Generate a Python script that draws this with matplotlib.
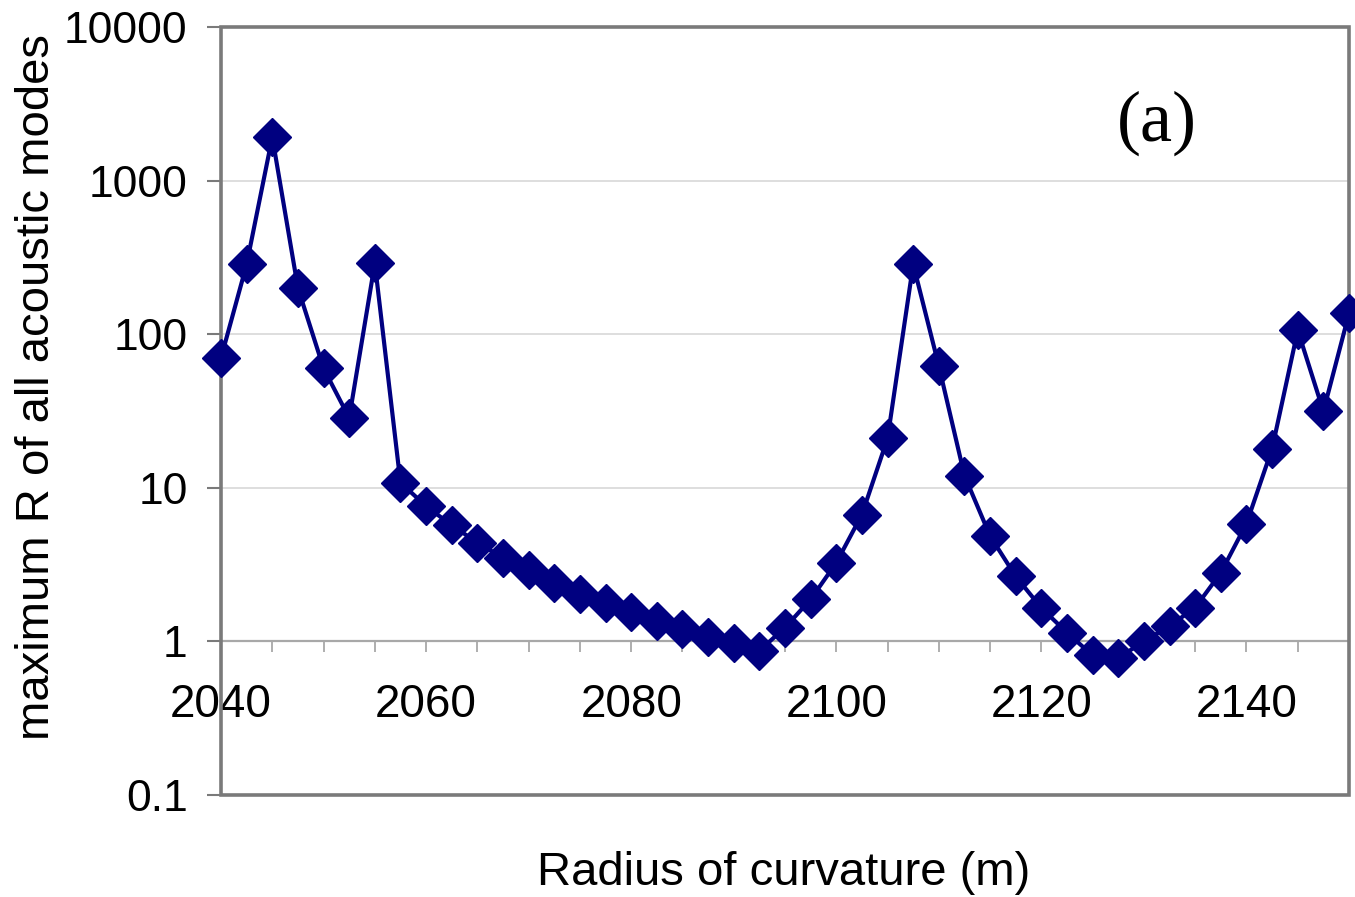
import matplotlib
matplotlib.use("Agg")
import matplotlib.pyplot as plt
from matplotlib.patches import Rectangle
from matplotlib.ticker import MultipleLocator, NullLocator

# radius of curvature (m) and maximum R over all acoustic modes
radius = [2040, 2042.5, 2045, 2047.5, 2050, 2052.5, 2055, 2057.5, 2060, 2062.5,
          2065, 2067.5, 2070, 2072.5, 2075, 2077.5, 2080, 2082.5, 2085, 2087.5,
          2090, 2092.5, 2095, 2097.5, 2100, 2102.5, 2105, 2107.5, 2110, 2112.5,
          2115, 2117.5, 2120, 2122.5, 2125, 2127.5, 2130, 2132.5, 2135, 2137.5,
          2140, 2142.5, 2145, 2147.5, 2150]
max_r = [70, 285, 1920, 200, 60, 28.5, 290, 10.8, 7.6, 5.7,
         4.4, 3.5, 2.9, 2.4, 2.03, 1.77, 1.56, 1.36, 1.21, 1.07,
         0.97, 0.87, 1.23, 1.88, 3.25, 6.7, 21, 285, 62, 12,
         4.85, 2.65, 1.65, 1.14, 0.81, 0.78, 1.0, 1.26, 1.66, 2.8,
         5.85, 18, 106, 31.5, 137]

y_ticks = [0.1, 1, 10, 100, 1000, 10000]
y_tick_labels = ["0.1", "1", "10", "100", "1000", "10000"]
x_ticks = [2040, 2060, 2080, 2100, 2120, 2140]
x_tick_labels = ["2040", "2060", "2080", "2100", "2120", "2140"]

NAVY = "#000080"
FRAME = "#7a7a7a"
AXIS1 = "#a8a8a8"

plt.rcParams["font.family"] = ["Liberation Sans", "DejaVu Sans"]

fig = plt.figure(figsize=(13.55, 8.97), dpi=100)
ax = fig.add_axes([0.1631, 0.1137, 0.8325, 0.8562])

ax.set_yscale("log")
ax.set_ylim(0.1, 10000)
ax.set_xlim(2040, 2150)

ax.set_yticks(y_ticks)
ax.set_yticklabels(y_tick_labels)
ax.yaxis.set_minor_locator(NullLocator())
ax.yaxis.grid(True, which="major", color="#d8d8d8", lw=1.2)
ax.set_axisbelow(True)

ax.set_xticks(x_ticks)
ax.set_xticklabels(x_tick_labels)
ax.xaxis.set_minor_locator(MultipleLocator(5))

# excel style: category axis crosses at y = 1
for side in ["top", "right", "left"]:
    ax.spines[side].set_visible(False)
ax.spines["bottom"].set_position(("data", 1))
ax.spines["bottom"].set_color(AXIS1)
ax.spines["bottom"].set_linewidth(1.6)
ax.add_patch(Rectangle((0, 0), 1, 1, transform=ax.transAxes, fill=False,
                       ec=FRAME, lw=2.6, clip_on=False, zorder=3))

ax.tick_params(axis="y", direction="out", length=10, width=1.5, color=FRAME,
               labelsize=32, pad=14)
ax.tick_params(axis="x", which="both", direction="out", length=8, width=1.3,
               color=AXIS1, labelsize=33, pad=22)

ax.plot(radius, max_r, color=NAVY, lw=3.0, marker="D", ms=19,
        clip_on=False, zorder=5)

ax.text(0.83, 0.874, "(a)", transform=ax.transAxes, ha="center", va="center",
        fontsize=52, family=["Liberation Serif", "DejaVu Serif"])

fig.text(0.578, 0.027, "Radius of curvature (m)", ha="center", va="center",
         fontsize=34)
fig.text(0.027, 0.569, "maximum R of all acoustic modes", ha="center",
         va="center", rotation=90, fontsize=34)

fig.savefig("out.png", dpi=100)
